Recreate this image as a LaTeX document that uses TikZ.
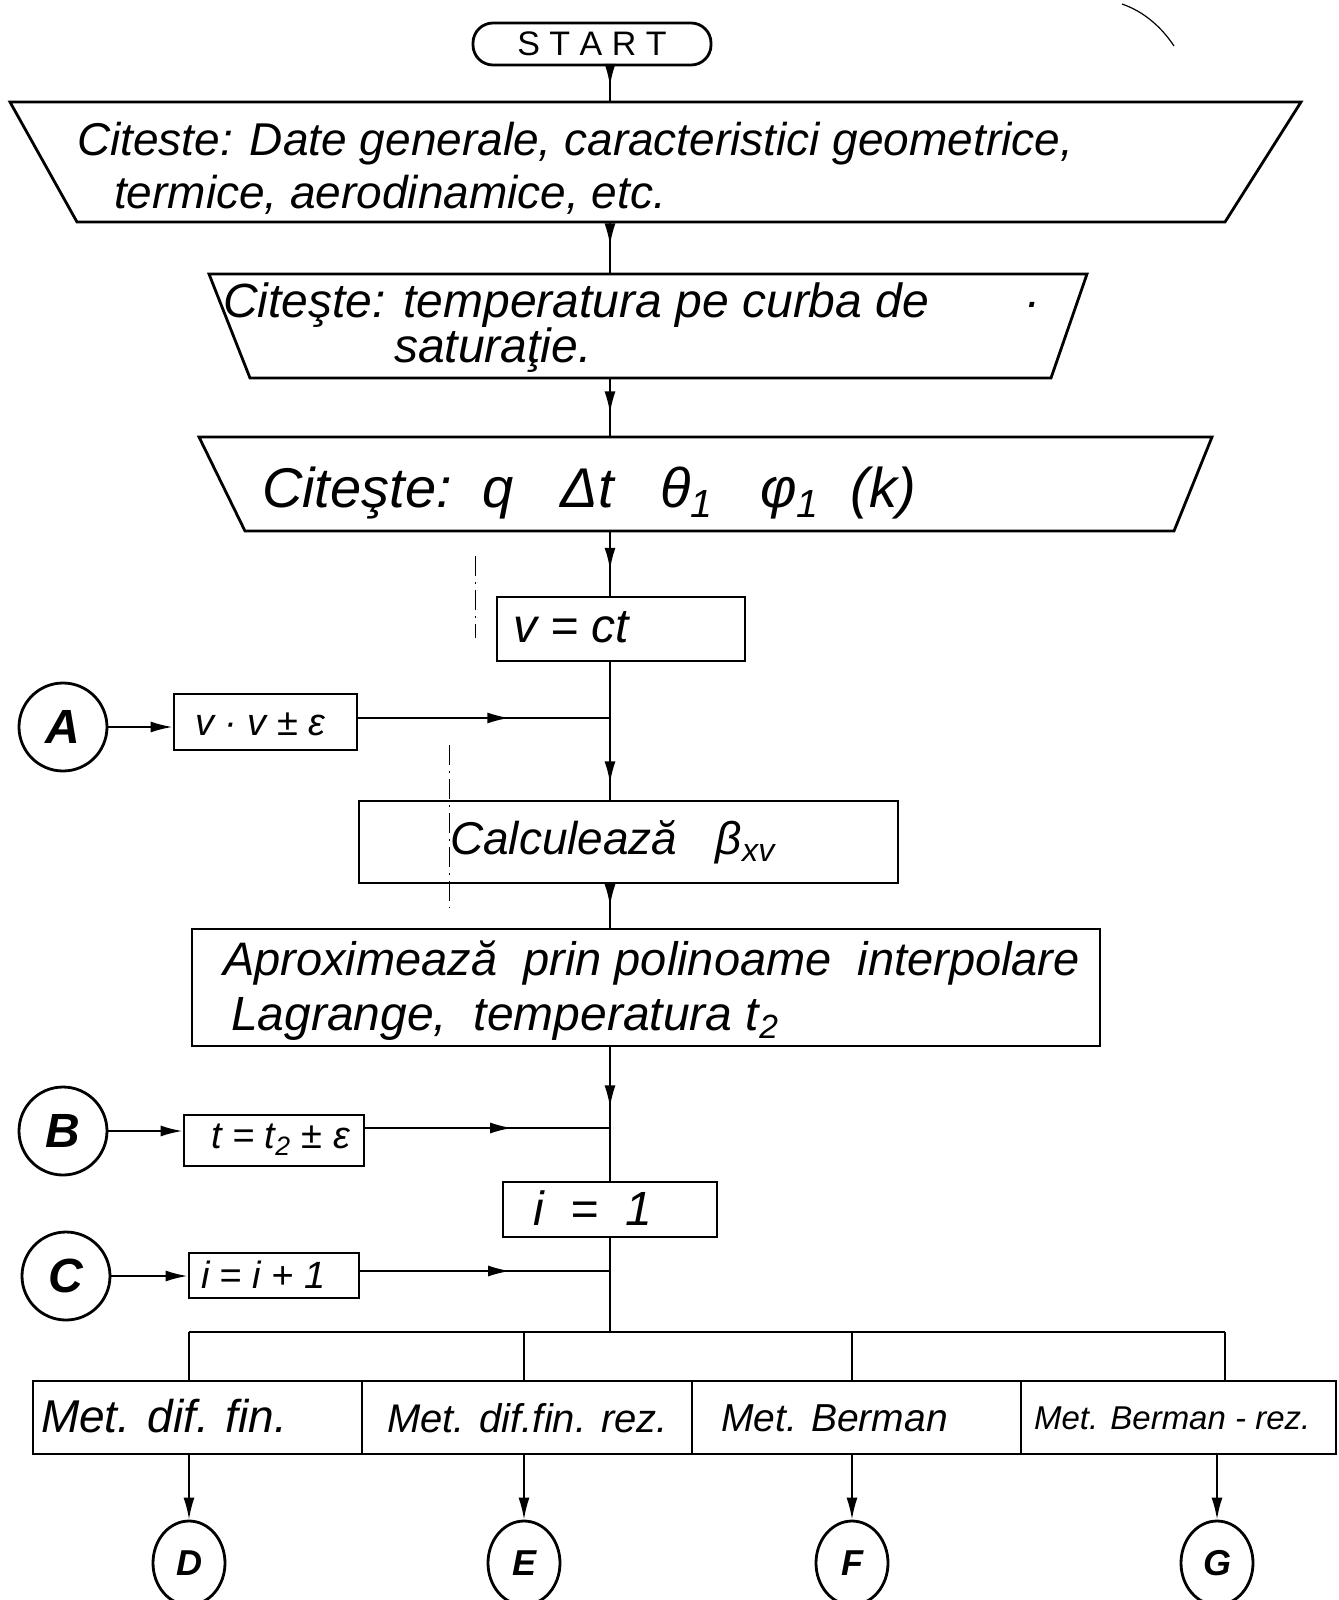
\documentclass[tikz,border=0pt]{standalone}
\usepackage{fontspec}
\setmainfont{Liberation Sans}
\usetikzlibrary{arrows.meta,decorations.markings,shapes.geometric}

\begin{document}
\begin{tikzpicture}[x=0.5pt,y=-0.5pt,
  line width=1pt,
  shapeline/.style={line width=1.4pt},
  box/.style={draw, shapeline, rectangle, inner sep=0pt},
  conn/.style={draw, shapeline, circle, inner sep=0pt, minimum size=44pt, font=\bfseries\itshape\fontsize{24}{28}\selectfont},
  endconn/.style={draw, shapeline, ellipse, inner sep=0pt, minimum width=36pt, minimum height=42pt, font=\bfseries\itshape\fontsize{18}{22}\selectfont},
  lbl/.style={anchor=west, inner sep=0pt, font=\itshape\fontsize{#1}{#1}\selectfont},
  lbl/.default=20,
  tip/.style={-{Latex[length=11pt,width=5.5pt]}},
  midarr/.style={postaction={decorate}, decoration={markings, mark=at position #1 with {\arrow{Latex[length=11pt,width=5.5pt]}}}},
  midarr/.default=0.5,
  speck/.style={line width=0.5pt, dash pattern=on 10pt off 3pt on 1pt off 3pt}]

\useasboundingbox (0,0) rectangle (1338,1600);

% start terminal
\node[draw, shapeline, rounded corners=10pt, minimum width=119pt, minimum height=21pt, inner sep=0pt,
      font=\fontsize{17}{17}\selectfont] (start) at (592,44) {S T A R T};

% input parallelograms (trapezoids)
\draw[shapeline] (10,102) -- (1301,102) -- (1225,222) -- (77,222) -- cycle;
\node[lbl=23] (t1a) at (76,144) {Citeste: Date generale, caracteristici geometrice,};
\node[lbl=23] (t1b) at (113,195) {termice, aerodinamice, etc.};

\draw[shapeline] (209,274) -- (1087,274) -- (1051,378) -- (250,378) -- cycle;
\node[lbl=24] (t2a) at (222,305) {Citeşte: temperatura pe curba de};
\node[lbl=24] (t2dot) at (1026,305) {.};
\node[lbl=24] (t2b) at (393,350) {saturaţie.};

\draw[shapeline] (199,437) -- (1212,437) -- (1174,531) -- (245,531) -- cycle;
\node[lbl=28] (t3a) at (261,493) {Citeşte:\ \ q\ \ \ Δt\ \ \ θ\textsubscript{1}\ \ \ φ\textsubscript{1}\ \ (k)};

\coordinate (t1n) at (610,102);
\coordinate (t1s) at (610,222);
\coordinate (t2n) at (610,274);
\coordinate (t2s) at (610,378);
\coordinate (t3n) at (610,437);
\coordinate (t3s) at (610,531);

% processing boxes
\node[box, minimum width=124pt, minimum height=32pt] (vct) at (621,629) {};
\node[lbl=24] (vctl) at (512,627) {v = ct};

\node[conn] (A) at (63,727) {A};
\node[box, minimum width=91.5pt, minimum height=28pt] (vbox) at (265.5,722) {};
\node[lbl=19] (vboxl) at (194,724) {v · v ± ε};

\node[box, minimum width=269.5pt, minimum height=41pt] (calc) at (628.5,842) {};
\node[lbl=23] (calcl) at (449,842) {Calculează\ \ \ β\textsubscript{xv}};

\node[box, minimum width=454pt, minimum height=58.5pt] (aprox) at (646,987.5) {};
\node[lbl=23.5] (aproxa) at (222,963) {Aproximează\ \ prin polinoame\ \ interpolare};
\node[lbl=24] (aproxb) at (230,1019) {Lagrange, \ temperatura\ t\textsubscript{2}};

\node[conn] (B) at (63,1131) {B};
\node[box, minimum width=90pt, minimum height=25.5pt] (tbox) at (274,1140.5) {};
\node[lbl=19] (tboxl) at (210,1140) {t = t\textsubscript{2} ± ε};

\node[box, minimum width=107pt, minimum height=27.5pt] (i1) at (610,1209.5) {};
\node[lbl=24] (i1l) at (532,1208) {i\ \ =\ \ 1};

\node[conn] (C) at (66,1276) {C};
\node[box, minimum width=85pt, minimum height=22.5pt] (cbox) at (274,1275.5) {};
\node[lbl=19] (cboxl) at (200,1275) {i = i + 1};

% method boxes
\node[box, minimum width=164.5pt, minimum height=36.5pt] (mD) at (197.5,1417.5) {};
\node[box, minimum width=165pt, minimum height=36.5pt] (mE) at (527,1417.5) {};
\node[box, minimum width=164.5pt, minimum height=36.5pt] (mF) at (856.5,1417.5) {};
\node[box, minimum width=157.5pt, minimum height=36.5pt] (mG) at (1178.5,1417.5) {};
\node[lbl=23] (mDl) at (40,1416) {Met. dif. fin.};
\node[lbl=20] (mEl) at (386,1418) {Met. dif.fin. rez.};
\node[lbl=19.5] (mFl) at (720,1418) {Met. Berman};
\node[lbl=16.5] (mGl) at (1033,1418) {Met. Berman - rez.};

% exit connectors
\node[endconn] (D) at (189,1563) {D};
\node[endconn] (E) at (524,1563) {E};
\node[endconn] (F) at (852,1563) {F};
\node[endconn] (G) at (1217,1563) {G};

% main flow line
\draw[midarr=0.55] (start.south -| t1n) -- (t1n);
\draw[midarr=0.45] (t1s) -- (t2n);
\draw[midarr=0.6] (t2s) -- (t3n);
\draw[midarr=0.6] (t3s) -- (t3s |- vct.north);

\coordinate (jA) at (610,718);
\draw (vct.south -| jA) -- (jA);
\draw[midarr=0.8] (jA) -- (jA |- calc.north);
\draw[tip] (A.east) -- (A.east -| vbox.west);
\draw[midarr=0.6] (vbox.east |- jA) -- (jA);

\draw[midarr=0.5] (calc.south -| jA) -- (aprox.north -| jA);

\coordinate (jB) at (610,1128);
\draw[midarr=0.45] (aprox.south -| jA) -- (i1.north);
\draw[tip] (B.east) -- (B.east -| tbox.west);
\draw[midarr=0.6] (tbox.east |- jB) -- (jB);

\coordinate (jC) at (610,1271);
\coordinate (split) at (610,1332);
\draw (i1.south) -- (split);
\draw[tip] (C.east) -- (C.east -| cbox.west);
\draw[midarr=0.6] (cbox.east |- jC) -- (jC);

% distribution bar
\coordinate (bD) at (189,1332);
\coordinate (bE) at (524,1332);
\coordinate (bF) at (852,1332);
\coordinate (bG) at (1225,1332);
\draw (bD) -- (bG);
\draw (bD) -- (bD |- mD.north);
\draw (bE) -- (bE |- mE.north);
\draw (bF) -- (bF |- mF.north);
\draw (bG) -- (bG |- mG.north);

\draw[tip] (mD.south -| D) -- (D.north);
\draw[tip] (mE.south -| E) -- (E.north);
\draw[tip] (mF.south -| F) -- (F.north);
\draw[tip] (mG.south -| G) -- (G.north);

% faint marks on the sheet
\draw[line width=0.6pt] (1122,4) .. controls (1145,12) and (1162,28) .. (1174,46);
\draw[speck] (475,556) -- (475,638);
\draw[speck] (449,745) -- (449,908);
\end{tikzpicture}
\end{document}
